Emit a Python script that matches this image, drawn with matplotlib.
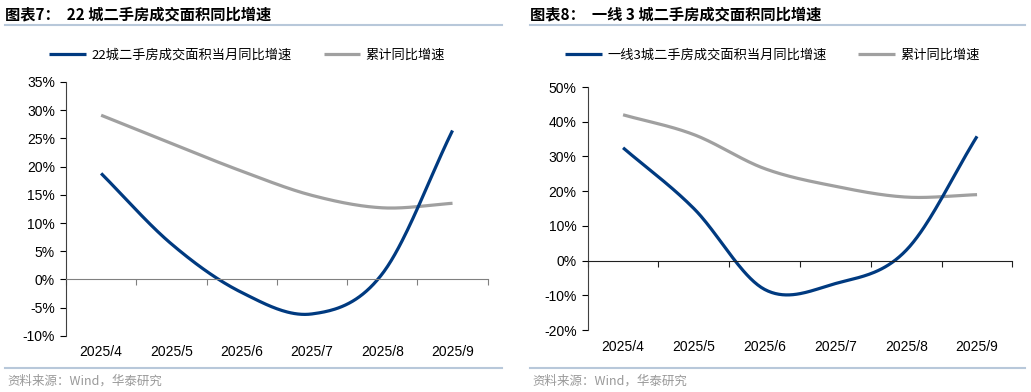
import matplotlib.pyplot as plt
import numpy as np
from matplotlib.transforms import blended_transform_factory

plt.rcParams['font.family'] = ['Noto Sans CJK SC', 'DejaVu Sans']

# Data
months = ['2025/4', '2025/5', '2025/6', '2025/7', '2025/8', '2025/9']

city22_month = [18.8, 6.3, -2.3, -6.1, 1.0, 26.4]
city22_cum = [29.1, 24.1, 19.2, 14.9, 12.7, 13.5]

tier1_month = [32.5, 15.0, -8.3, -6.6, 3.0, 35.8]
tier1_cum = [42.0, 36.3, 26.5, 21.4, 18.3, 19.0]

BLUE = '#003a80'
GRAY = '#a0a0a0'
LINE = '#b8c8da'


def smooth(y, n=40):
    # excel-style smoothed line (catmull-rom through the points)
    y = np.asarray(y, float)
    p = np.concatenate([[2 * y[0] - y[1]], y, [2 * y[-1] - y[-2]]])
    xs, ys = [], []
    for i in range(len(y) - 1):
        p0, p1, p2, p3 = p[i], p[i + 1], p[i + 2], p[i + 3]
        m1 = (p2 - p0) / 2
        m2 = (p3 - p1) / 2
        t = np.linspace(0, 1, n, endpoint=(i == len(y) - 2))
        h00 = 2 * t**3 - 3 * t**2 + 1
        h10 = t**3 - 2 * t**2 + t
        h01 = -2 * t**3 + 3 * t**2
        h11 = t**3 - t**2
        xs.append(i + t)
        ys.append(h00 * p1 + h10 * m1 + h01 * p2 + h11 * m2)
    return np.concatenate(xs), np.concatenate(ys)


def panel(ax, s1, s2, names, ylim, step, label_pad, zero_color, leg_x, leg_y):
    x, y = smooth(s2)
    ax.plot(x, y, color=GRAY, lw=2.3, label=names[1], solid_capstyle='butt')
    x, y = smooth(s1)
    ax.plot(x, y, color=BLUE, lw=2.3, label=names[0], solid_capstyle='butt')

    ax.set_xlim(-0.5, len(months) - 0.5)
    ax.set_ylim(*ylim)
    ax.set_yticks(np.arange(ylim[0], ylim[1] + 1, step))
    ax.set_yticklabels([f'{v:.0f}%' for v in ax.get_yticks()],
                       family='Liberation Sans', fontsize=10)
    ax.tick_params(axis='y', direction='out', length=4, width=0.8, pad=4)

    for s in ['top', 'right']:
        ax.spines[s].set_visible(False)
    ax.spines['left'].set_color('#404040')
    ax.spines['bottom'].set_position(('data', 0))
    ax.spines['bottom'].set_color(zero_color)
    ax.set_xticks(np.arange(-0.5, len(months), 1.0))
    ax.set_xticklabels([])
    ax.tick_params(axis='x', direction='out', length=4, width=0.8,
                   color=zero_color)

    tr = blended_transform_factory(ax.transData, ax.transAxes)
    for i, m in enumerate(months):
        ax.text(i, label_pad, m, transform=tr, ha='center', va='center',
                family='Liberation Sans', fontsize=10)

    h, l = ax.get_legend_handles_labels()
    ax.legend(h[::-1], l[::-1], loc='center', bbox_to_anchor=(leg_x, leg_y),
              ncol=2, frameon=False, fontsize=9.5, handlelength=2.8,
              columnspacing=2.4, handletextpad=0.4)


fig = plt.figure(figsize=(10.31, 3.92), dpi=100)

ax1 = fig.add_axes([0.064, 0.143, 0.409, 0.648])
panel(ax1, city22_month, city22_cum,
      ['22城二手房成交面积当月同比增速', '累计同比增速'],
      (-10, 35), 5, -0.062, '#808080', 0.43, 1.105)

ax2 = fig.add_axes([0.570, 0.158, 0.412, 0.62])
panel(ax2, tier1_month, tier1_cum,
      ['一线3城二手房成交面积当月同比增速', '累计同比增速'],
      (-20, 50), 10, -0.07, '#202020', 0.435, 1.13)

# titles, rules and sources
for x0, x1, title in [(5, 502, '图表7：  22 城二手房成交面积同比增速'),
                      (530, 1025, '图表8：  一线 3 城二手房成交面积同比增速')]:
    fig.text(x0 / 1031, 1 - 14 / 392, title, fontsize=11, fontweight='bold',
             va='center', ha='left')
    fig.add_artist(plt.Line2D([x0 / 1031, x1 / 1031], [1 - 25 / 392] * 2,
                              color=LINE, lw=1.5))
    fig.add_artist(plt.Line2D([x0 / 1031, x1 / 1031], [1 - 368 / 392] * 2,
                              color=LINE, lw=1.5))
    fig.text(x0 / 1031 + 0.002, 1 - 381 / 392, '资料来源：Wind，华泰研究',
             fontsize=9, color='#999999', va='center', ha='left')

fig.savefig('out.png', dpi=100)
